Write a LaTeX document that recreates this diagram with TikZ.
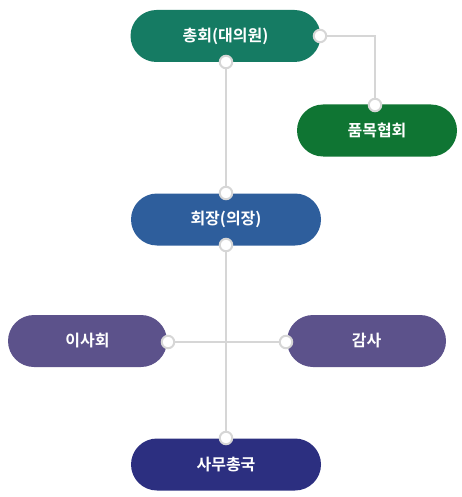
\documentclass[tikz,border=0pt]{standalone}
\usepackage{fontspec}
\newfontfamily\kr{Noto Sans CJK KR}[BoldFont={Noto Sans CJK KR Bold}]
\definecolor{cGen}{HTML}{157B63}
\definecolor{cAssoc}{HTML}{0F7533}
\definecolor{cPres}{HTML}{2E5E9C}
\definecolor{cBoard}{HTML}{5C528B}
\definecolor{cSec}{HTML}{2C2F80}
\definecolor{cLine}{HTML}{D6D6D6}
\begin{document}
\begin{tikzpicture}[x=1pt,y=-1pt,
  box/.style={rectangle, rounded corners=26pt, minimum width=#1, minimum height=52pt,
    inner sep=0pt, text=white, font=\kr\bfseries\fontsize{16}{18}\selectfont},
  box/.default=190pt,
  dot/.style={circle, draw=cLine, fill=white, line width=2pt, minimum size=12.5pt, inner sep=0pt},
  conn/.style={draw=cLine, line width=2pt}]
\useasboundingbox (0,0) rectangle (462,497);
% boxes
\node[box, fill=cGen] (gen) at (225.5,36) {총회(대의원)};
\node[box=160pt, fill=cAssoc] (assoc) at (377,130.5) {품목협회};
\node[box, fill=cPres] (pres) at (226,219.5) {회장(의장)};
\node[box=159pt, fill=cBoard] (board) at (87.5,341) {이사회};
\node[box=159pt, fill=cBoard] (audit) at (366.5,341) {감사};
\node[box, fill=cSec] (sec) at (226,464.5) {사무총국};
% connectors
\coordinate (genR) at (320,36);
\coordinate (genB) at (226,62);
\coordinate (assocT) at (375,105);
\coordinate (presT) at (226,193);
\coordinate (presB) at (226,245);
\coordinate (boardR) at (168,342);
\coordinate (auditL) at (286,342);
\coordinate (secT) at (226,438);
\draw[conn] (genR) -| (assocT);
\draw[conn] (genB) -- (presT);
\draw[conn] (presB) -- (secT);
\draw[conn] (boardR) -- (auditL);
% dots
\foreach \p in {genR,genB,assocT,presT,presB,boardR,auditL,secT}
  \node[dot] (d\p) at (\p) {};
\end{tikzpicture}
\end{document}
